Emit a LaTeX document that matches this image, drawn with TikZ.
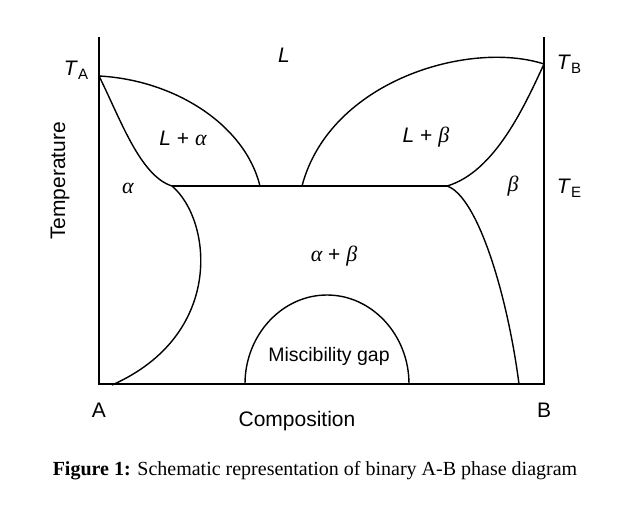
\documentclass[tikz,border=0pt]{standalone}
\usepackage{fontspec}
\setmainfont{Liberation Sans}
\newfontfamily\capfont{Liberation Serif}
\newcommand{\Tsub}[1]{\textit{T}{\fontsize{15}{15}\selectfont\raisebox{-4pt}{#1}}}
\newcommand{\gr}[1]{{\capfont\itshape\fontsize{22}{24}\selectfont #1}}
\begin{document}
\begin{tikzpicture}[x=1pt,y=-1pt,
  axis/.style={line width=2.4pt, line join=miter},
  curve/.style={line width=1.4pt},
  lbl/.style={font=\fontsize{21}{24}\selectfont, inner sep=0pt}]
\useasboundingbox (0,0) rectangle (630,509);
\fill[white] (0,0) rectangle (630,509);
% key points
\coordinate (Atop) at (99,37);
\coordinate (O) at (99,384);
\coordinate (Bbot) at (544,384);
\coordinate (Btop) at (544,37);
\coordinate (TA) at (99,76);
\coordinate (TB) at (544,64);
\coordinate (EL) at (172,186);
\coordinate (ER) at (447,186);
\coordinate (LL) at (260,186);
\coordinate (LR) at (302,186);
\coordinate (SA) at (112,385);
\coordinate (SB) at (519,384);
\coordinate (M1) at (245,384);
\coordinate (M2) at (409,384);
% axes
\draw[axis] (Atop) -- (O) -- (Bbot) -- (Btop);
% eutectic line
\draw[curve] (EL) -- (ER);
% left liquidus and solidus
\draw[curve] (TA) .. controls (175,80) and (245,125) .. (LL);
\draw[curve] (TA) .. controls (120,118) and (140,176) .. (EL);
% left solvus
\draw[curve] (EL) .. controls (212,220) and (225,335) .. (SA);
% right liquidus and solidus
\draw[curve] (LR) .. controls (330,80) and (470,40) .. (TB);
\draw[curve] (TB) .. controls (525,105) and (495,172) .. (ER);
% right solvus
\draw[curve] (ER) .. controls (477,196) and (507,292) .. (SB);
% miscibility gap
\draw[curve] (M1) .. controls (245,335) and (282,295) .. (327,295) .. controls (372,295) and (409,335) .. (M2);
% labels
\node[lbl] (tA) at (76,70) {\Tsub{A}};
\node[lbl] (tB) at (569,64) {\Tsub{B}};
\node[lbl] (tE) at (569,188) {\Tsub{E}};
\node[lbl] (L) at (284,55) {\textit{L}};
\node[lbl] (La) at (183,138) {\textit{L} + \gr{α}};
\node[lbl] (Lb) at (426,137) {\textit{L} + \gr{β}};
\node[lbl] (a) at (128,188) {\gr{α}};
\node[lbl] (b) at (513,186) {\gr{β}};
\node[lbl] (ab) at (334,256) {\gr{α} + \gr{β}};
\node[lbl, font=\fontsize{19.5}{22}\selectfont] (mg) at (329,356) {Miscibility gap};
\node[lbl] (A) at (99,410) {A};
\node[lbl] (B) at (544,410) {B};
\node[lbl] (comp) at (297,421) {Composition};
\node[lbl, rotate=90] (temp) at (60,181) {Temperature};
\node[inner sep=0pt, font=\capfont\fontsize{20}{24}\selectfont] (cap) at (315,471) {\textbf{Figure 1:} Schematic representation of binary A-B phase diagram};
\end{tikzpicture}
\end{document}
